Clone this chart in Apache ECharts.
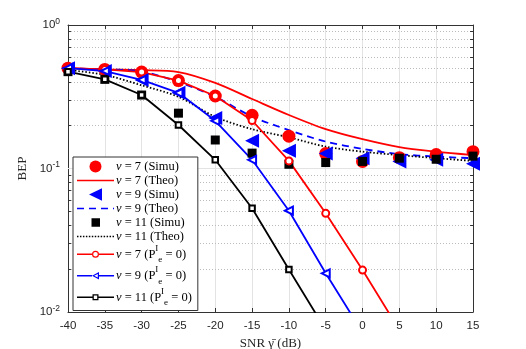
<!DOCTYPE html>
<html>
<head>
<meta charset="utf-8">
<script src="https://cdn.jsdelivr.net/npm/echarts@6/dist/echarts.min.js"></script>
<style>
  html, body { margin: 0; padding: 0; background: #fff; }
  #chart { width: 526px; height: 349px; }
</style>
</head>
<body>
<div id="chart"></div>
<script>
// SNR points (dB)
var snr = [-40, -35, -30, -25, -20, -15, -10, -5, 0, 5, 10, 15];

// simulated / theoretical BEP
var simu7 = [0.50, 0.49, 0.47, 0.41, 0.32, 0.235, 0.168, 0.127, 0.112, 0.119, 0.125, 0.131];
var theo7 = [0.50, 0.49, 0.485, 0.47, 0.395, 0.305, 0.236, 0.188, 0.16, 0.141, 0.131, 0.124];
var simu9 = [0.50, 0.478, 0.414, 0.337, 0.225, 0.156, 0.133, 0.127, 0.118, 0.112, 0.115, 0.108];
var theo9 = [0.50, 0.49, 0.475, 0.40, 0.316, 0.23, 0.185, 0.154, 0.137, 0.126, 0.121, 0.118];
var simu11 = [0.473, 0.418, 0.325, 0.243, 0.158, 0.128, 0.107, 0.110, 0.112, 0.118, 0.116, 0.122];
var theo11 = [0.486, 0.449, 0.38, 0.316, 0.229, 0.188, 0.165, 0.142, 0.131, 0.124, 0.118, 0.113];

// P_e^I = 0 curves
var ideal7 = [0.50, 0.49, 0.47, 0.41, 0.32, 0.216, 0.113, 0.0487, 0.0196, 0.0075];
var ideal9 = [0.50, 0.478, 0.414, 0.337, 0.215, 0.115, 0.0508, 0.0186, 0.0072];
var ideal11 = [0.473, 0.418, 0.325, 0.201, 0.115, 0.0528, 0.0198, 0.0075];

// minor log grid values
var minorVals = [0.02, 0.03, 0.04, 0.05, 0.06, 0.07, 0.08, 0.09, 0.2, 0.3, 0.4, 0.5, 0.6, 0.7, 0.8, 0.9];

var names = ['n7s', 'n7t', 'n9s', 'n9t', 'n11s', 'n11t', 'n7p', 'n9p', 'n11p'];
var legendText = {
  n7s: '{i|ν} = 7 (Simu)',
  n7t: '{i|ν} = 7 (Theo)',
  n9s: '{i|ν} = 9 (Simu)',
  n9t: '{i|ν} = 9 (Theo)',
  n11s: '{i|ν} = 11 (Simu)',
  n11t: '{i|ν} = 11 (Theo)',
  n7p: '{i|ν} = 7 (P{sup|I}{sub|e} = 0)',
  n9p: '{i|ν} = 9 (P{sup|I}{sub|e} = 0)',
  n11p: '{i|ν} = 11 (P{sup|I}{sub|e} = 0)'
};

function pairs(arr) {
  return arr.map(function (v, i) { return [snr[i], v]; });
}

// legend icons drawn in a 37 x 12.5 box (bounds pinned by the first two moves)
var BOX = 'M0,0 M37,12.5 ';
function segs(list) {
  return list.map(function (s) {
    return 'M' + s[0] + ',5.4 H' + s[1] + ' V7.1 H' + s[0] + ' Z';
  }).join(' ');
}
var dashes = [], dots = [];
for (var d = 0; d < 37; d += 12) dashes.push([d, Math.min(d + 7, 37)]);
for (var t = 0; t < 37; t += 3) dots.push([t, t + 1.5]);
var icons = {
  n7s: 'path://' + BOX + 'M12.5,6.25 A6,6 0 1,0 24.5,6.25 A6,6 0 1,0 12.5,6.25 Z',
  n7t: 'path://' + BOX + segs([[0, 37]]),
  n9s: 'path://' + BOX + 'M12,6.25 L25,0 L25,12.5 Z',
  n9t: 'path://' + BOX + segs(dashes),
  n11s: 'path://' + BOX + 'M14.5,2 H23 V10.5 H14.5 Z',
  n11t: 'path://' + BOX + segs(dots),
  n7p: 'path://' + BOX + segs([[0, 15], [22, 37]]) +
    ' M15,6.25 A3.5,3.5 0 1,0 22,6.25 A3.5,3.5 0 1,0 15,6.25 Z' +
    ' M16.2,6.25 A2.3,2.3 0 1,1 20.8,6.25 A2.3,2.3 0 1,1 16.2,6.25 Z',
  n9p: 'path://' + BOX + segs([[0, 15], [22, 37]]) +
    ' M15,6.25 L22,2.6 L22,9.9 Z M17.2,6.25 L20.8,8.1 L20.8,4.4 Z',
  n11p: 'path://' + BOX + segs([[0, 15.5], [21.5, 37]]) +
    ' M15.5,3.25 H21.5 V9.25 H15.5 Z M16.8,4.55 V7.95 H20.2 V4.55 Z'
};
var colors = { n7s: '#ff0000', n7t: '#ff0000', n9s: '#0000ff', n9t: '#0000ff', n11s: '#000', n11t: '#000', n7p: '#ff0000', n9p: '#0000ff', n11p: '#000' };

var serif = 'Liberation Serif';
var sans = 'Liberation Sans';

var chart = echarts.init(document.getElementById('chart'));

var gridLines = minorVals.map(function (v) { return { yAxis: v }; });
gridLines.push({ yAxis: 0.1, lineStyle: { type: 'solid', color: '#e3e3e3' } });
var minorTicks = [];
minorVals.forEach(function (v) {
  minorTicks.push([{ coord: [-40, v] }, { coord: [-39.6, v] }]);
  minorTicks.push([{ coord: [14.6, v] }, { coord: [15, v] }]);
});

chart.setOption({
  animation: false,
  grid: { left: 68, right: 53, top: 25, bottom: 37, show: false, containLabel: false, outerBoundsMode: 'none' },
  legend: {
    data: names.map(function (n) {
      return { name: n, icon: icons[n], itemStyle: { color: colors[n], borderWidth: 0 } };
    }),
    z: 20,
    orient: 'vertical',
    left: 73,
    top: 157,
    width: 124,
    padding: [3, 6, 3, 4],
    itemGap: 1,
    itemWidth: 37,
    itemHeight: 12.5,
    backgroundColor: '#fff',
    borderColor: '#333',
    borderWidth: 1,
    borderRadius: 0,
    selectedMode: false,
    formatter: function (name) { return legendText[name]; },
    textStyle: {
      fontFamily: serif,
      fontSize: 12.5,
      color: '#000',
      padding: [0, 0, 0, -3],
      rich: {
        i: { fontFamily: serif, fontSize: 12.5, fontStyle: 'italic', color: '#000' },
        sup: { fontFamily: serif, fontSize: 9, color: '#000', padding: [0, 0, 11.5, 0] },
        sub: { fontFamily: serif, fontSize: 9, color: '#000', padding: [11.5, 0, 0, 0] }
      }
    }
  },
  xAxis: [{
    type: 'value',
    min: -40,
    max: 15,
    interval: 5,
    name: 'SNR γ\u0304 (dB)',
    nameLocation: 'middle',
    nameGap: 22,
    nameTextStyle: { fontFamily: serif, fontSize: 13, color: '#262626' },
    axisLine: { show: true, onZero: false, lineStyle: { color: '#333' } },
    axisTick: { show: true, inside: true, length: 4, lineStyle: { color: '#333' } },
    axisLabel: { fontFamily: sans, fontSize: 11.5, color: '#262626', margin: 8 },
    splitLine: { show: true, lineStyle: { color: '#e3e3e3', width: 1 } }
  }, {
    type: 'value',
    position: 'top',
    min: -40,
    max: 15,
    interval: 5,
    axisLine: { show: true, onZero: false, lineStyle: { color: '#333' } },
    axisTick: { show: true, inside: true, length: 4, lineStyle: { color: '#333' } },
    axisLabel: { show: false },
    splitLine: { show: false }
  }],
  yAxis: [{
    type: 'log',
    logBase: 10,
    min: 0.01,
    max: 1,
    name: 'BEP',
    nameLocation: 'middle',
    nameGap: 35,
    nameTextStyle: { fontFamily: serif, fontSize: 13, color: '#262626' },
    axisLine: { show: true, onZero: false, lineStyle: { color: '#333' } },
    axisTick: { show: true, inside: true, length: 4, lineStyle: { color: '#333' } },
    axisLabel: {
      margin: 8,
      formatter: function (v) {
        return '{b|10}{s|' + Math.round(Math.log10(v)) + '}';
      },
      rich: {
        b: { fontFamily: sans, fontSize: 11.5, color: '#262626' },
        s: { fontFamily: sans, fontSize: 8.5, color: '#262626', padding: [0, 0, 7, 0] }
      }
    },
    splitLine: { show: false },
    minorTick: { show: false },
    minorSplitLine: { show: false }
  }, {
    type: 'log',
    logBase: 10,
    min: 0.01,
    max: 1,
    position: 'right',
    axisLine: { show: true, onZero: false, lineStyle: { color: '#333' } },
    axisTick: { show: true, inside: true, length: 4, lineStyle: { color: '#333' } },
    axisLabel: { show: false },
    splitLine: { show: false }
  }],
  series: [{
    type: 'line',
    name: 'gridhelper',
    data: [],
    silent: true,
    z: 1,
    markLine: {
      silent: true,
      symbol: 'none',
      animation: false,
      z: 1,
      label: { show: false },
      lineStyle: { type: [1, 2], color: '#bbb', width: 1 },
      data: gridLines
    }
  }, {
    type: 'line',
    name: 'tickhelper',
    data: [],
    silent: true,
    z: 1,
    markLine: {
      silent: true,
      symbol: 'none',
      animation: false,
      z: 1,
      label: { show: false },
      lineStyle: { type: 'solid', color: '#333', width: 1 },
      data: minorTicks
    }
  }, {
    type: 'scatter', name: 'n7s', data: pairs(simu7),
    symbol: 'circle', symbolSize: 13,
    itemStyle: { color: '#ff0000', opacity: 1 }, z: 3
  }, {
    type: 'line', name: 'n7t', data: pairs(theo7),
    smooth: 0.3, showSymbol: false, symbol: 'none',
    lineStyle: { color: '#ff0000', width: 1.8 }, itemStyle: { color: '#ff0000' }, z: 3
  }, {
    type: 'scatter', name: 'n9s', data: pairs(simu9),
    symbol: 'triangle', symbolRotate: 90, symbolSize: 14,
    itemStyle: { color: '#0000ff', opacity: 1 }, z: 3
  }, {
    type: 'line', name: 'n9t', data: pairs(theo9),
    smooth: 0.3, showSymbol: false, symbol: 'none',
    lineStyle: { color: '#0000ff', width: 1.8, type: [7, 5] }, itemStyle: { color: '#0000ff' }, z: 3
  }, {
    type: 'scatter', name: 'n11s', data: pairs(simu11),
    symbol: 'rect', symbolSize: 9,
    itemStyle: { color: '#000', opacity: 1 }, z: 3
  }, {
    type: 'line', name: 'n11t', data: pairs(theo11),
    smooth: 0.3, showSymbol: false, symbol: 'none',
    lineStyle: { color: '#000', width: 1.8, type: [1.5, 2] }, itemStyle: { color: '#000' }, z: 3
  }, {
    type: 'line', name: 'n7p', data: pairs(ideal7),
    symbol: 'emptyCircle', symbolSize: 7, showSymbol: true, clip: true,
    lineStyle: { color: '#ff0000', width: 1.8 }, itemStyle: { color: '#ff0000', borderWidth: 1.3 }, z: 3
  }, {
    type: 'line', name: 'n9p', data: pairs(ideal9),
    symbol: 'emptyTriangle', symbolRotate: 90, symbolSize: 8, showSymbol: true, clip: true,
    lineStyle: { color: '#0000ff', width: 1.8 }, itemStyle: { color: '#0000ff', borderWidth: 1.3 }, z: 3
  }, {
    type: 'line', name: 'n11p', data: pairs(ideal11),
    symbol: 'emptyRect', symbolSize: 5.5, showSymbol: true, clip: true,
    lineStyle: { color: '#000', width: 1.8 }, itemStyle: { color: '#000', borderWidth: 1.3 }, z: 3
  }]
});
</script>
</body>
</html>
